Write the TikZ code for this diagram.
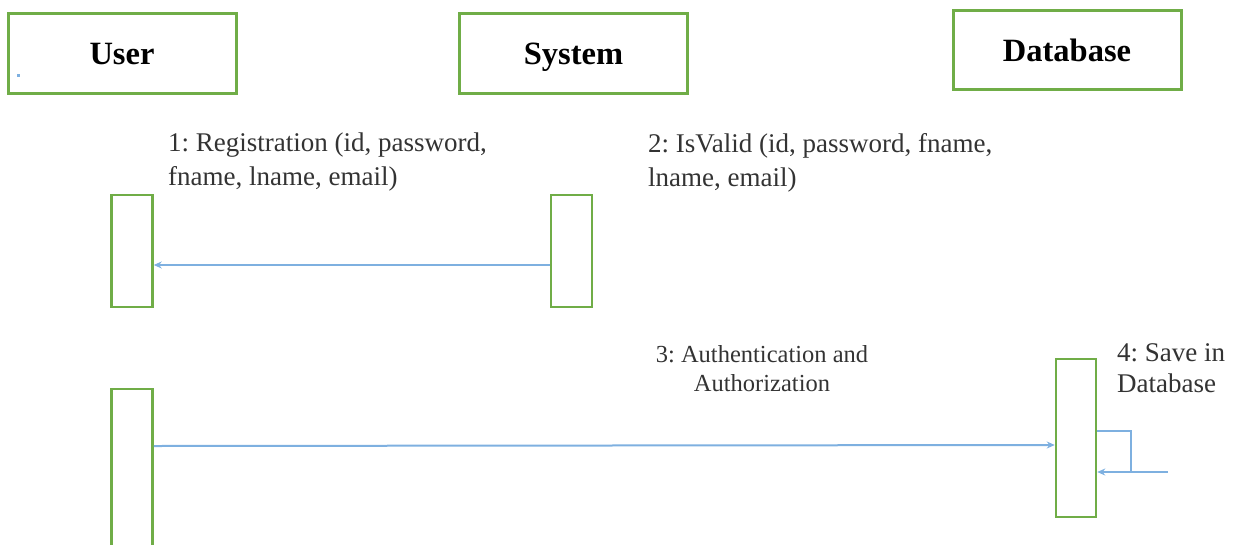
\documentclass[tikz,border=0pt]{standalone}
\usepackage{fontspec}
\setmainfont{Liberation Serif}
\usetikzlibrary{arrows.meta}
\definecolor{lifegreen}{HTML}{70AD47}
\definecolor{msgblue}{HTML}{7EB0E0}
\definecolor{labelgray}{HTML}{333333}
\frenchspacing

\begin{document}
\begin{tikzpicture}[x=1pt,y=-1pt,
  header/.style={draw=lifegreen,line width=3pt,minimum width=228pt,minimum height=80pt,
    inner sep=0pt,text height=22pt,text depth=0pt,font=\fontsize{32.5}{36}\selectfont\bfseries},
  actbox/.style={draw=lifegreen,line width=2.5pt,minimum width=41pt,inner sep=0pt},
  msg/.style={draw=msgblue,line width=2pt},
  tip/.style={-{Stealth[length=8pt,width=7pt]}},
  lbl/.style={text=labelgray,inner sep=0pt}]
  \useasboundingbox (0,0) rectangle (1233,544);
  \clip (0,0) rectangle (1233,544);

  % lifeline headers
  \node[header] (user) at (122,53) {User};
  \node[header] (sys)  at (573.5,53) {System};
  \node[header,minimum height=79pt] (db) at (1067,50) {Database};
  \fill[msgblue] (17,74) rectangle (20,77);

  % activation bars
  \node[actbox,minimum height=112pt] (act1) at (132,251) {};
  \node[actbox,minimum height=112pt] (act2) at (571.5,251) {};
  \node[actbox,minimum height=161pt] (act3) at (132,469.5) {};
  \node[actbox,minimum width=40pt,minimum height=158pt] (act4) at (1076,438) {};

  % message labels
  \node[lbl,anchor=north west,align=left,font=\fontsize{27}{34}\selectfont] (l1) at (168,133)
    {1: Registration (id, password,\\fname, lname, email)};
  \node[lbl,anchor=north west,align=left,font=\fontsize{27}{34}\selectfont] (l2) at (648,133)
    {2: IsValid (id, password, fname,\\lname, email)};
  \node[lbl,anchor=north,align=center,font=\fontsize{24.5}{29}\selectfont] (l3) at (762,345)
    {3: Authentication and\\Authorization};
  \node[lbl,anchor=north west,align=left,font=\fontsize{27}{31}\selectfont] (l4) at (1117,343)
    {4: Save in\\Database};

  % messages
  \draw[msg,tip] (act2.west |- 0,265) -- (act1.east |- 0,265);
  \draw[msg,tip] (act3.east |- 0,446) -- (act4.west |- 0,445);
  \draw[msg] (act4.east |- 0,431) -| (1131,472);
  \coordinate (loopin) at (1168,472);
  \draw[msg,tip] (loopin) -- (act4.east |- loopin);
\end{tikzpicture}
\end{document}
